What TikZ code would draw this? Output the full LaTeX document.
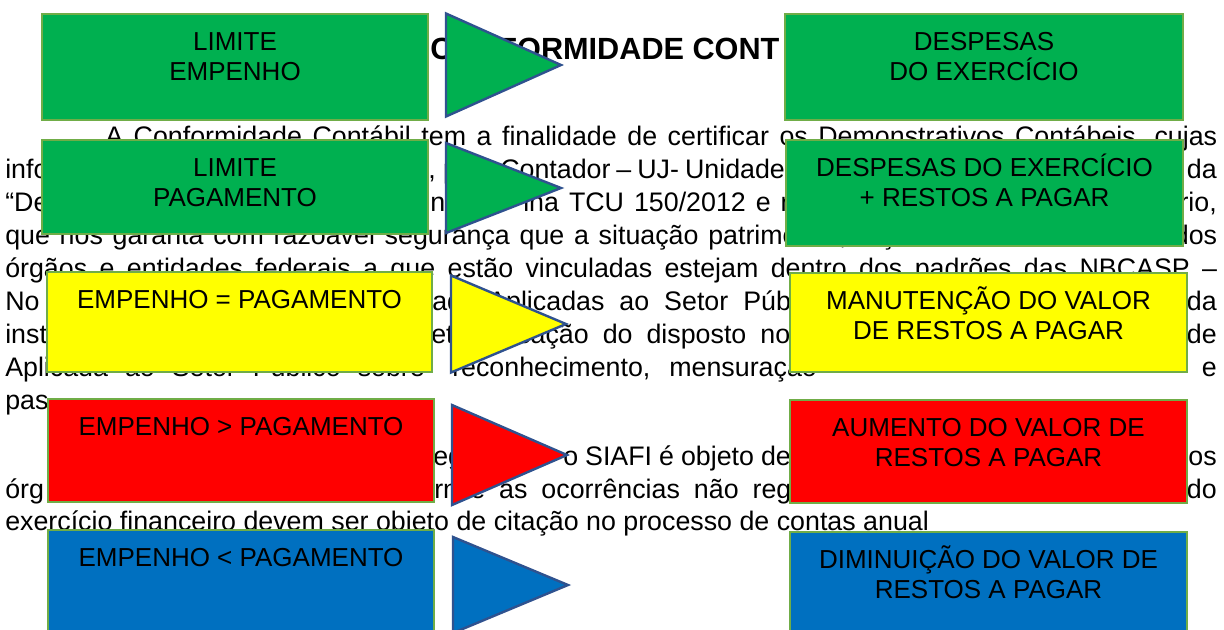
\documentclass[tikz,border=0pt]{standalone}
\usepackage{fontspec}
\setmainfont{Liberation Sans}
\usetikzlibrary{shapes.geometric, positioning}

\newdimen\pxu \pxu=0.75pt
\newcommand\ws[1]{\spaceskip=#1\pxu\relax}
\newcommand\tstrut{\rule{0pt}{19pt}}

\definecolor{cgreen}{HTML}{00B050}
\definecolor{cyellow}{HTML}{FFFF00}
\definecolor{cred}{HTML}{FF0000}
\definecolor{cblue}{HTML}{0070C0}
\definecolor{boxedge}{HTML}{70AD47}
\definecolor{triedge}{HTML}{2F528F}

\tikzset{
  box/.style = {
    rectangle, draw=boxedge, line width=1.5pt, anchor=north west,
    inner sep=0pt, outer sep=0pt
  },
  boxtxt/.style = {
    anchor=north, align=center, inner sep=0pt,
    font=\fontsize{19.5}{22.5}\selectfont
  },
  tri/.style = {
    isosceles triangle, isosceles triangle stretches, anchor=apex,
    draw=triedge, line width=1.8pt, inner sep=0pt, outer sep=0pt,
    minimum height=115\pxu
  },
  txt/.style = {
    anchor=base west, inner sep=0pt, font=\fontsize{20.1}{23}\selectfont
  },
  txtr/.style = { txt, anchor=base east },
  title/.style = { txt, font=\fontsize{23}{27}\selectfont\bfseries }
}

\begin{document}
\begin{tikzpicture}[x=0.75pt, y=-0.75pt]

    \useasboundingbox (0,0) rectangle (1224,629);
    \clip (0,0) rectangle (1224,629);

    % ------------------------------------------------------- Text underneath
    \node [title] (ttl) at (430,59) {CONFORMIDADE CONT};

    \node [txt] (l1) at (105,145) {\makebox[1112\pxu][s]{A Conformidade Contábil tem a finalidade de certificar os Demonstrativos Contábeis, cujas}};

    \node [txt]  (l2a) at (5,178)    {info};
    \node [txt]  (l2b) at (428,178)  {, p};
    \node [txt]  (l2c) at (500,178)  {\ws{6}Contador – UJ- Unidade};
    \node [txtr] (l2d) at (1217,178) {da};

    \node [txt]  (l3a) at (5,211)    {“De};
    \node [txt]  (l3b) at (430,211)  {na};
    \node [txt]  (l3c) at (523,211)  {\ws{10}ina TCU 150/2012 e n};
    \node [txtr] (l3d) at (1217,211) {rio,};

    \node [txt] (l4) at (5,244) {\makebox[1212\pxu][s]{que nos garanta com razoável segurança que a situação patrimonial, orçamentária e financeira dos}};

    \node [txt] (l5) at (5,277) {\makebox[1212\pxu][s]{órgãos e entidades federais a que estão vinculadas estejam dentro dos padrões das NBCASP –}};

    \node [txt]  (l6a) at (5,310)    {No};
    \node [txt]  (l6b) at (432,310)  {ad};
    \node [txt]  (l6c) at (488,310)  {\ws{15}Aplicadas ao Setor Público};
    \node [txtr] (l6d) at (1217,310) {da};

    \node [txt]  (l7a) at (5,343)    {inst};
    \node [txt]  (l7b) at (431,343)  {eti};
    \node [txt]  (l7c) at (517,343)  {\ws{14}cação do disposto no};
    \node [txtr] (l7d) at (1217,343) {de};

    \node [txt]  (l8a) at (5,376)    {\ws{17}Aplicada ao Setor Público sobre};
    \node [txt]  (l8b) at (452,376)  {\ws{19}reconhecimento, mensuração};
    \node [txtr] (l8c) at (1217,376) {e};

    \node [txt]  (l9) at (5,409) {pas};

    \node [txt]  (l10a) at (433,465)  {eg};
    \node [txt]  (l10b) at (563,465)  {\ws{7}o SIAFI é objeto de};
    \node [txtr] (l10c) at (1217,465) {os};

    \node [txt]  (l11a) at (5,498)    {órg};
    \node [txt]  (l11b) at (434,498)  {rn};
    \node [txt]  (l11c) at (470,498)  {\ws{14}e as ocorrências não reg};
    \node [txtr] (l11d) at (1217,498) {do};

    \node [txt] (l12) at (5,530) {exercício financeiro devem ser objeto de citação no processo de contas anual};

    % ------------------------------------------------------------- Left boxes
    \node [box, fill=cgreen,  minimum width=386\pxu, minimum height=106\pxu] (lim_emp) at (42,14)  {};
    \node [box, fill=cgreen,  minimum width=386\pxu, minimum height=94\pxu]  (lim_pag) at (42,140) {};
    \node [box, fill=cyellow, minimum width=385\pxu, minimum height=100\pxu] (emp_eq)  at (47,272) {};
    \node [box, fill=cred,    minimum width=386\pxu, minimum height=103\pxu] (emp_gt)  at (48,399) {};
    \node [box, fill=cblue,   minimum width=386\pxu, minimum height=110\pxu] (emp_lt)  at (48,530) {};

    % -------------------------------------------------------------- Triangles
    \node [tri, fill=cgreen,  minimum width=103\pxu] (tri_a) at (561,65)  {};
    \node [tri, fill=cgreen,  minimum width=90\pxu]  (tri_b) at (561,188) {};
    \node [tri, fill=cyellow, minimum width=97\pxu]  (tri_c) at (566,324) {};
    \node [tri, fill=cred,    minimum width=100\pxu] (tri_d) at (567,455) {};
    \node [tri, fill=cblue,   minimum width=96\pxu]  (tri_e) at (568,585) {};

    % ------------------------------------------------------------ Right boxes
    \node [box, fill=cgreen,  minimum width=398\pxu, minimum height=106\pxu] (desp)     at (785,14)  {};
    \node [box, fill=cgreen,  minimum width=397\pxu, minimum height=106\pxu] (desp_rp)  at (786,140) {};
    \node [box, fill=cyellow, minimum width=397\pxu, minimum height=99\pxu]  (manut)    at (790,273) {};
    \node [box, fill=cred,    minimum width=397\pxu, minimum height=103\pxu] (aumento)  at (790,400) {};
    \node [box, fill=cblue,   minimum width=397\pxu, minimum height=108\pxu] (diminui)  at (790,532) {};

    % ------------------------------------------------------------- Box texts
    \node [boxtxt, below=11\pxu of lim_emp.north] (lim_emp_t) {\tstrut LIMITE\\EMPENHO};
    \node [boxtxt, below=11\pxu of lim_pag.north] (lim_pag_t) {\tstrut LIMITE\\PAGAMENTO};
    \node [boxtxt, below=11\pxu of emp_eq.north]  (emp_eq_t)  {\tstrut EMPENHO = PAGAMENTO};
    \node [boxtxt, below=11\pxu of emp_gt.north]  (emp_gt_t)  {\tstrut EMPENHO > PAGAMENTO};
    \node [boxtxt, below=11\pxu of emp_lt.north]  (emp_lt_t)  {\tstrut EMPENHO < PAGAMENTO};

    \node [boxtxt, below=11\pxu of desp.north]    (desp_t)    {\tstrut DESPESAS\\DO EXERCÍCIO};
    \node [boxtxt, below=11\pxu of desp_rp.north] (desp_rp_t) {\tstrut DESPESAS DO EXERCÍCIO\\+ RESTOS A PAGAR};
    \node [boxtxt, below=11\pxu of manut.north]   (manut_t)   {\tstrut MANUTENÇÃO DO VALOR\\DE RESTOS A PAGAR};
    \node [boxtxt, below=11\pxu of aumento.north] (aumento_t) {\tstrut AUMENTO DO VALOR DE\\RESTOS A PAGAR};
    \node [boxtxt, below=11\pxu of diminui.north] (diminui_t) {\tstrut DIMINUIÇÃO DO VALOR DE\\RESTOS A PAGAR};

\end{tikzpicture}
\end{document}
